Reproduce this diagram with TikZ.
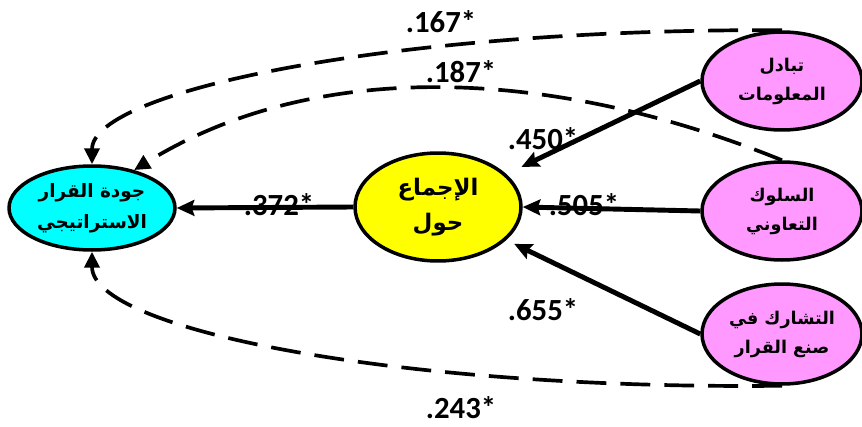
\documentclass[tikz,border=0pt]{standalone}
\usepackage{fontspec}
\usepackage{tikz}
\usetikzlibrary{positioning, arrows.meta, shapes.geometric}
\TeXXeTstate=1
\newfontfamily\arabicfont[Script=Arabic]{DejaVu Sans}
\newfontfamily\coeffont{Carlito}
\definecolor{outcol}{HTML}{00FFFF}
\definecolor{medcol}{HTML}{FFFF00}
\definecolor{predcol}{HTML}{FF99FF}

\begin{document}
\begin{tikzpicture}[x=0.02cm, y=-0.02cm,
      var/.style={ellipse, draw=black, line width=2pt, inner sep=0pt,
        align=center, font=\arabicfont\bfseries\fontsize{10.5}{17.5}\selectfont},
      outcome/.style={var, fill=outcol, minimum width=3.32cm, minimum height=1.68cm},
      mediator/.style={var, fill=medcol, minimum width=3.32cm, minimum height=2.16cm,
        font=\arabicfont\bfseries\fontsize{13}{20}\selectfont},
      predictor/.style={var, fill=predcol, minimum width=3.2cm, minimum height=1.96cm,
        font=\arabicfont\bfseries\fontsize{10}{16.5}\selectfont},
      coef/.style={font=\coeffont\bfseries\fontsize{17.5}{20}\selectfont, inner sep=0pt},
      direct/.style={-{Stealth[length=10pt, width=9pt, inset=1.5pt]}, line width=2.8pt},
      effect/.style={-{Triangle[length=9pt, width=8.5pt]}, line width=2.1pt,
        dash pattern=on 17pt off 8pt}]

    \useasboundingbox (0,0) rectangle (862,426);

    \node[outcome] (quality) at (92,208) {\beginR جودة القرار\endR\\\beginR الاستراتيجي\endR};
    \node[mediator] (consensus) at (438,207) {\beginR الإجماع\endR\\\beginR حول\endR};
    \node[predictor] (info) at (782,81) {\beginR تبادل\endR\\\beginR المعلومات\endR};
    \node[predictor] (coop) at (782,211) {\beginR السلوك\endR\\\beginR التعاوني\endR};
    \node[predictor, minimum height=2.0cm] (share) at (782,334) {\beginR التشارك في\endR\\\beginR صنع القرار\endR};

    % coefficients
    \node[coef] (c167) at (441,22) {.167*};
    \node[coef] (c187) at (461,72) {.187*};
    \node[coef] (c450) at (543,139) {.450*};
    \node[coef] (c505) at (584,205) {.505*};
    \node[coef] (c372) at (279,205) {.372*};
    \node[coef] (c655) at (543,310) {.655*};
    \node[coef] (c243) at (461,408) {.243*};

    \draw[direct, shorten >=9.5pt] (info.west) -- (consensus);
    \draw[direct] (coop.west) -- (consensus.east);
    \draw[direct, shorten >=5pt] (share.west) -- (consensus);
    \draw[direct] (consensus.west) -- (quality.east);

    \draw[effect] (info.north) .. controls (400,28) and (92,90) .. (quality.north);
    \draw[effect] (coop.north) .. controls (560,70) and (320,55) .. (quality.42);
    \draw[effect] (share.south) .. controls (400,390) and (92,330) .. (quality.south);
  \end{tikzpicture}
\end{document}
